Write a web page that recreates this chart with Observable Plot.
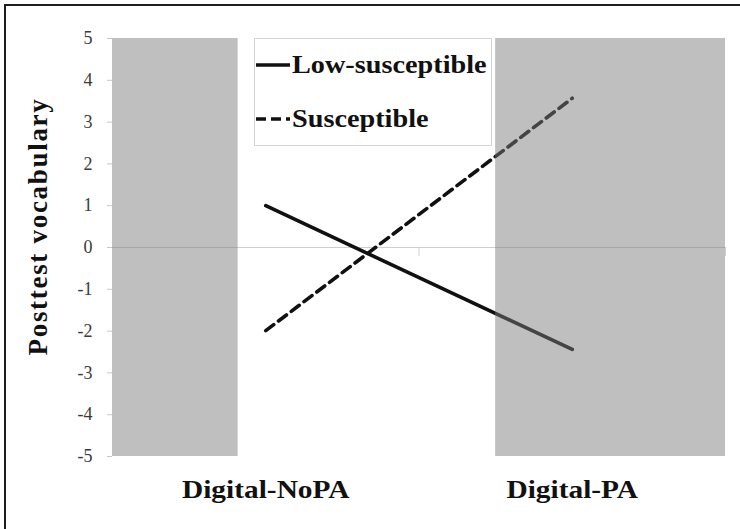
<!DOCTYPE html>
<html>
<head>
<meta charset="utf-8">
<script src="https://cdn.jsdelivr.net/npm/d3@7"></script>
<script src="https://cdn.jsdelivr.net/npm/@observablehq/plot@0.6"></script>
<style>
  body { margin: 0; background: #fff; }
  #wrap { position: relative; width: 740px; height: 529px; overflow: hidden; background: #fff; }
  #wrap > svg { position: absolute; left: 0; top: 0; }
  #border { position: absolute; left: 4px; top: 4px; right: -10px; bottom: -10px;
            border-top: 2px solid #1e1e1e; border-left: 2px solid #1e1e1e; pointer-events: none; }
  #legend { position: absolute; left: 254px; top: 38px; width: 236px; height: 106px;
            border: 1px solid #d4d4d4; background: #fff;
            font-family: "Liberation Serif", serif;
            font-weight: bold; font-size: 25px; color: #111; }
  .item { position: absolute; left: 1px; height: 30px; display: flex; align-items: center; white-space: nowrap; }
  .item svg { display: block; margin-right: 2px; }
  .item span { display: inline-block; transform: scaleX(1.13); transform-origin: left center; }
  text.y-title { letter-spacing: 1.7px; }
</style>
</head>
<body>
<div id="wrap"></div>
<script>
// ---- data ----
const categories = ["Digital-NoPA", "Digital-PA"];
const categoryPos = [0.5, 1.5];
const seriesNames = ["Low-susceptible", "Susceptible"];
const lowSusceptible = [1.0, -2.44];
const susceptible = [-1.99, 3.57];
const yTicks = [-5, -4, -3, -2, -1, 0, 1, 2, 3, 4, 5];
const xTickMarks = [1, 2];
const shadedStart = [0, 1.25];
const shadedEnd = [0.41, 2.0];
const yTitle = "Posttest vocabulary";

const lowData = categories.map((c, i) => ({pos: categoryPos[i], value: lowSusceptible[i]}));
const suscData = categories.map((c, i) => ({pos: categoryPos[i], value: susceptible[i]}));
const shaded = shadedStart.map((s, i) => ({x1: s, x2: shadedEnd[i]}));

const serif = "Liberation Serif";

const chart = Plot.plot({
  width: 740,
  height: 529,
  marginLeft: 112,
  marginRight: 15,
  marginTop: 38,
  marginBottom: 73,
  x: {domain: [0, 2], axis: null},
  y: {domain: [-5, 5], axis: null},
  style: {background: "transparent", fontFamily: serif},
  marks: [
    Plot.ruleY([0], {stroke: "#cfcfcf", strokeWidth: 1.2}),
    Plot.ruleX(xTickMarks, {y1: () => 0, y2: () => 0, insetBottom: -9, stroke: "#cfcfcf"}),
    Plot.line(lowData, {x: "pos", y: "value", stroke: "#111", strokeWidth: 3.6}),
    Plot.line(suscData, {x: "pos", y: "value", stroke: "#111", strokeWidth: 3.6, strokeDasharray: "10,6"}),
    Plot.rect(shaded, {x1: "x1", x2: "x2", y1: () => -5, y2: () => 5, fill: "#7b7b7b", fillOpacity: 0.486}),
    Plot.axisY({ticks: yTicks, tickSize: 5, tickPadding: 15, stroke: "#c8c8c8", fill: "#3a3a3a",
                fontSize: 18, fontFamily: serif, tickFormat: d => String(d), label: null}),
    Plot.text(categories, {x: (d, i) => categoryPos[i], y: () => -5, dy: 33, fontSize: 26, fontFamily: serif,
                           fontWeight: "bold", fill: "#111", lineAnchor: "middle"}),
    Plot.text([yTitle], {frameAnchor: "left", textAnchor: "middle", dx: -74, dy: -21, rotate: -90, fontSize: 27,
                         fontFamily: serif, fontWeight: "bold", fill: "#111", lineAnchor: "middle"})
  ]
});

// widen category labels horizontally (wide serif face in the original)
d3.select(chart).selectAll("text").each(function () {
  const s = this.textContent;
  if (categories.includes(s)) {
    const t = this.getAttribute("transform");
    if (t) this.setAttribute("transform", `${t} scale(1.13,1)`);
  }
  if (s === yTitle) this.classList.add("y-title");
});

const wrap = document.getElementById("wrap");
wrap.appendChild(chart);

// legend
const legend = document.createElement("div");
legend.id = "legend";
const dashes = [null, "10,5"];
seriesNames.forEach((name, i) => {
  const item = document.createElement("div");
  item.className = "item";
  item.style.top = (i === 0 ? 11 : 65) + "px";
  const s = d3.create("svg").attr("width", 34).attr("height", 30);
  s.append("line").attr("x1", 0).attr("x2", 34).attr("y1", 15).attr("y2", 15)
    .attr("stroke", "#111").attr("stroke-width", 3.6)
    .attr("stroke-dasharray", dashes[i]);
  item.appendChild(s.node());
  const t = document.createElement("span");
  t.textContent = name;
  item.appendChild(t);
  legend.appendChild(item);
});
wrap.appendChild(legend);

const border = document.createElement("div");
border.id = "border";
wrap.appendChild(border);
</script>
</body>
</html>
